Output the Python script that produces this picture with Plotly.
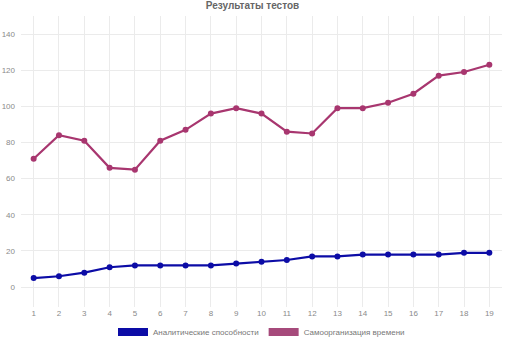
import plotly.graph_objects as go

categories = list(range(1, 20))
analytic = [5, 6, 8, 11, 12, 12, 12, 12, 13, 14, 15, 17, 17, 18, 18, 18, 18, 19, 19]
selforg = [71, 84, 81, 66, 65, 81, 87, 96, 99, 96, 86, 85, 99, 99, 102, 107, 117, 119, 123]
y_ticks = [0, 20, 40, 60, 80, 100, 120, 140]

blue = "#0c0ca6"
magenta = "#a8366f"

fig = go.Figure()
fig.add_trace(go.Scatter(x=categories, y=analytic, mode="lines+markers",
                         line=dict(color=blue, width=2.2), marker=dict(size=6, color=blue),
                         showlegend=False, cliponaxis=False))
fig.add_trace(go.Scatter(x=categories, y=selforg, mode="lines+markers",
                         line=dict(color=magenta, width=2.2), marker=dict(size=6, color=magenta),
                         showlegend=False, cliponaxis=False))
fig.add_trace(go.Scatter(x=[None], y=[None], mode="lines", name="Аналитические способности",
                         line=dict(color=blue, width=8)))
fig.add_trace(go.Scatter(x=[None], y=[None], mode="lines", name="Самоорганизация времени",
                         line=dict(color="#a64a7b", width=8)))

fig.update_layout(
    width=505, height=342,
    margin=dict(l=21, r=3, t=16, b=35, autoexpand=False),
    paper_bgcolor="white", plot_bgcolor="white",
    font=dict(family="Liberation Sans, Arial, sans-serif", size=8, color="#8a8a8a"),
    title=dict(text="<b>Результаты тестов</b>", x=0.5, xanchor="center",
               y=0.995, yanchor="top", font=dict(size=10, color="#666666")),
    xaxis=dict(tickmode="array", tickvals=categories, ticktext=[str(c) for c in categories],
               range=[0.5, 19.5], showgrid=True, gridcolor="#ebebeb", gridwidth=1,
               zeroline=False, showline=False, ticks="", automargin=False,
               tickfont=dict(size=8, color="#8a8a8a")),
    yaxis=dict(tickmode="array", tickvals=y_ticks, range=[-11, 150], showgrid=True,
               gridcolor="#ebebeb", zeroline=False, showline=False, ticks="",
               automargin=False, ticklabelstandoff=5,
               tickfont=dict(size=8, color="#8a8a8a")),
    legend=dict(orientation="h", x=0.5, xanchor="center", y=-0.086,
                yanchor="middle", bgcolor="rgba(0,0,0,0)", tracegroupgap=0,
                font=dict(size=8, color="#777777"), itemwidth=30),
)

fig.write_html("out.html", config={"displayModeBar": False},
               post_script="document.body.style.margin='0';document.body.style.overflow='hidden';")
